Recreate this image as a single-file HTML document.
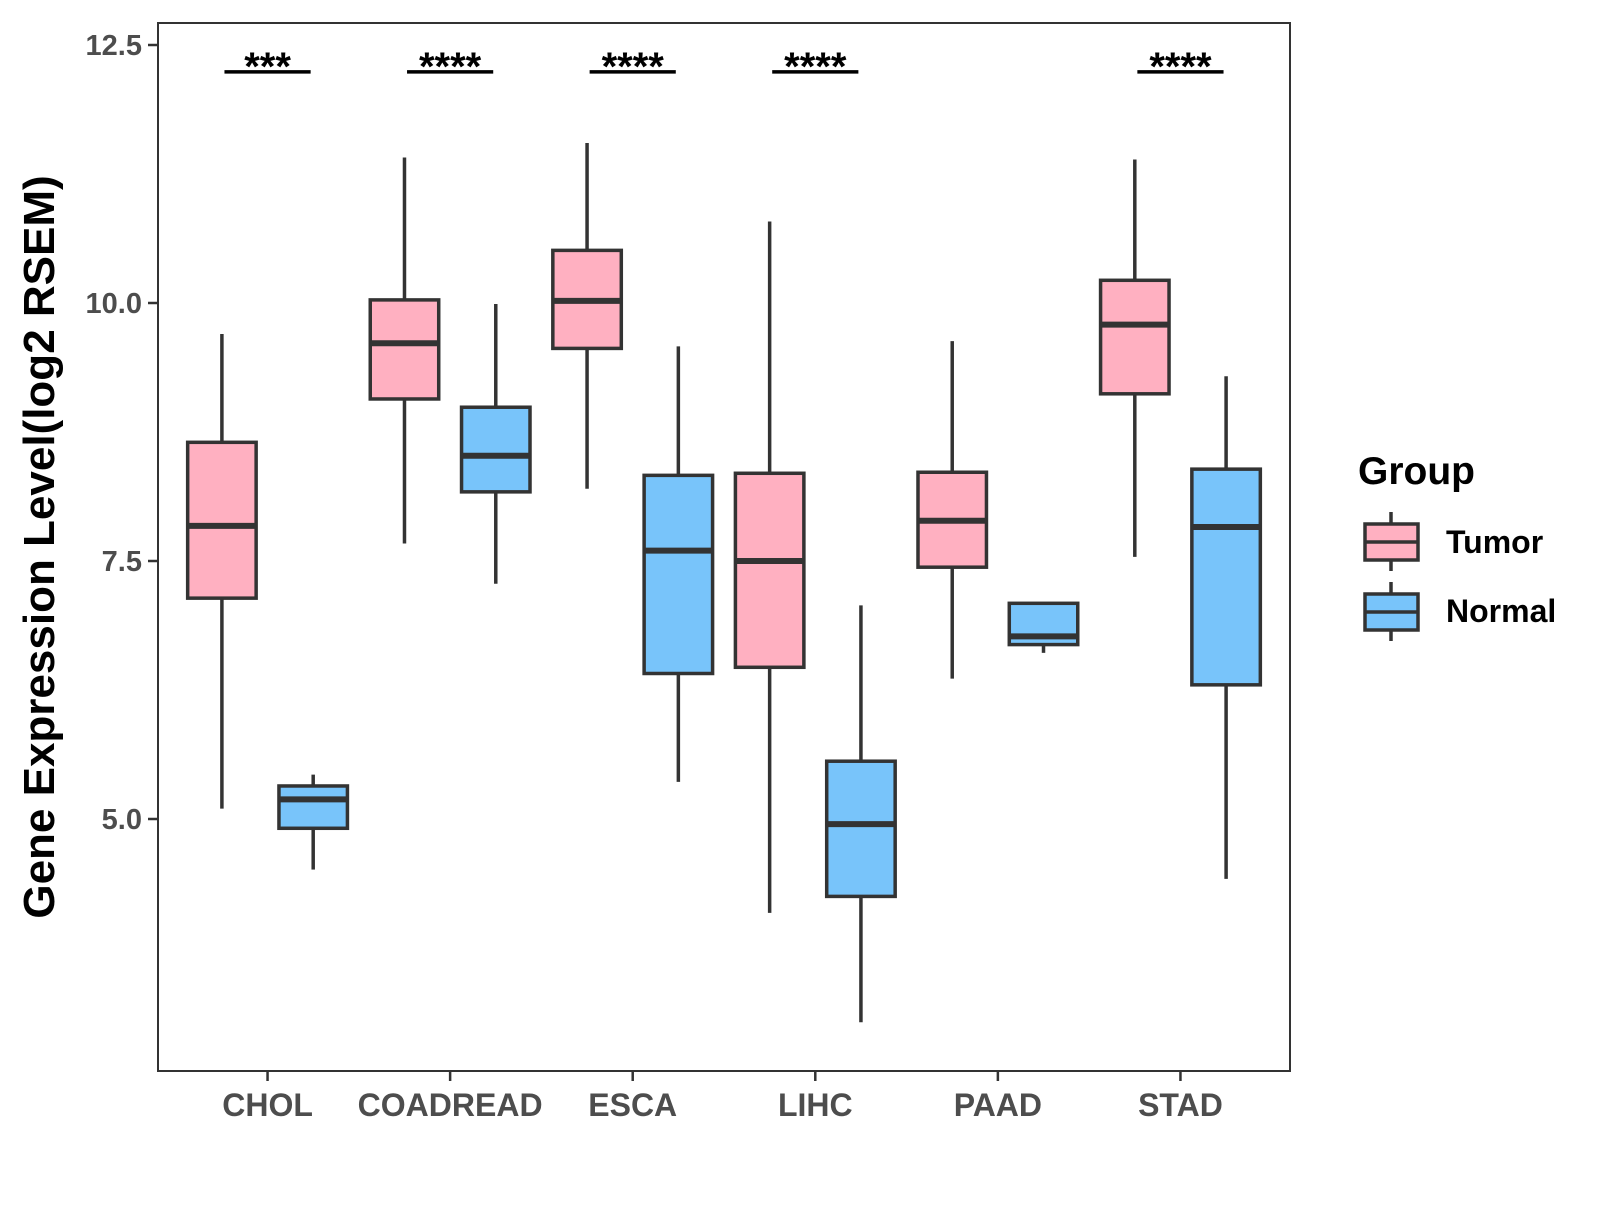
<!DOCTYPE html>
<html><head><meta charset="utf-8"><style>
body{margin:0;background:#fff}
svg text{font-family:"Liberation Sans",Arial,sans-serif;font-weight:bold}
</style></head><body>
<svg id="chart" width="1600" height="1200" xmlns="http://www.w3.org/2000/svg">
<rect width="1600" height="1200" fill="#fff"/>
<g id="plot"></g>
<rect x="158" y="23" width="1132" height="1048" fill="none" stroke="#333" stroke-width="2"/>
<text transform="translate(54,547) rotate(-90)" text-anchor="middle" font-size="44" fill="#000">Gene Expression Level(log2 RSEM)</text>
<g>
<text x="1358" y="484" font-size="39" fill="#000">Group</text>
<g>
<line x1="1391" y1="512" x2="1391" y2="571" stroke="#333" stroke-width="3.5"/>
<rect x="1365" y="524" width="53" height="36" fill="#FFB0C1" stroke="#333" stroke-width="3.5"/>
<line x1="1365" y1="542" x2="1418" y2="542" stroke="#333" stroke-width="3.5"/>
<text x="1446" y="553" font-size="32" fill="#000">Tumor</text></g>
<g>
<line x1="1391" y1="582" x2="1391" y2="641" stroke="#333" stroke-width="3.5"/>
<rect x="1365" y="594" width="53" height="36" fill="#78C4FA" stroke="#333" stroke-width="3.5"/>
<line x1="1365" y1="612" x2="1418" y2="612" stroke="#333" stroke-width="3.5"/>
<text x="1446" y="622" font-size="32" fill="#000">Normal</text></g>
</g>
</svg>
<script>
const categories=["CHOL","COADREAD","ESCA","LIHC","PAAD","STAD"];
// [lower whisker, Q1, median, Q3, upper whisker]
const tumorStats=[[5.10,7.14,7.84,8.65,9.70],[7.67,9.07,9.61,10.03,11.41],[8.20,9.56,10.02,10.51,11.55],[4.09,6.47,7.50,8.35,10.79],[6.36,7.44,7.89,8.36,9.63],[7.54,9.12,9.79,10.22,11.39]];
const normalStats=[[4.51,4.91,5.19,5.32,5.43],[7.28,8.17,8.52,8.99,9.99],[5.36,6.41,7.60,8.33,9.58],[3.03,4.25,4.95,5.56,7.07],[6.61,6.69,6.77,7.09,7.10],[4.42,6.30,7.83,8.39,9.29]];
const sigLabels=["***","****","****","****","","****"];
const yTicks=[5.0,7.5,10.0,12.5];
const sigY=12.24;

const NS="http://www.w3.org/2000/svg";
const g=document.getElementById('plot');
const px0=158,pw=1132,py0=23,ph=1048;
function yS(v){return 303-(v-10)*103.2;}
const step=pw/6.2;
function xS(i){return px0+(0.6+i)*step;}
function mk(t,a,p){const e=document.createElementNS(NS,t);for(const k in a)e.setAttribute(k,a[k]);(p||g).appendChild(e);return e;}
const bw=0.375*step;
const off=0.25*step;
function box(cx,s,fill,name){
  const gg=mk('g',{});
  
  
  mk('line',{x1:cx,x2:cx,y1:yS(s[4]),y2:yS(s[3]),stroke:'#333','stroke-width':3.5},gg);
  mk('line',{x1:cx,x2:cx,y1:yS(s[1]),y2:yS(s[0]),stroke:'#333','stroke-width':3.5},gg);
  mk('rect',{x:cx-bw/2,y:yS(s[3]),width:bw,height:yS(s[1])-yS(s[3]),fill:fill,stroke:'#333','stroke-width':3.5},gg);
  mk('line',{x1:cx-bw/2,x2:cx+bw/2,y1:yS(s[2]),y2:yS(s[2]),stroke:'#333','stroke-width':6},gg);
}
categories.forEach((c,i)=>{
  const cx=xS(i);
  box(cx-off,tumorStats[i],'#FFB0C1','box-tumor-'+c.toLowerCase());
  box(cx+off,normalStats[i],'#78C4FA','box-normal-'+c.toLowerCase());
  const t=mk('line',{x1:cx,x2:cx,y1:py0+ph,y2:py0+ph+10,stroke:'#333','stroke-width':2.5});
  
  
  const l=mk('text',{x:cx,y:1116,'text-anchor':'middle','font-size':32,fill:'#4d4d4d'});
  l.textContent=c;
  
  
  if(sigLabels[i]){
    const b=mk('line',{x1:cx-0.236*step,x2:cx+0.236*step,y1:yS(sigY),y2:yS(sigY),stroke:'#000','stroke-width':3.5});
    
    
    const s=mk('text',{x:cx,y:yS(sigY)+8,'text-anchor':'middle','font-size':40,fill:'#000'});
    s.textContent=sigLabels[i];
    
    
  }
});
yTicks.forEach(v=>{
  const t=mk('line',{x1:px0-10,x2:px0,y1:yS(v),y2:yS(v),stroke:'#333','stroke-width':2.5});
  
  
  const l=mk('text',{x:px0-16,y:yS(v)+10,'text-anchor':'end','font-size':29,fill:'#4d4d4d'});
  l.textContent=v.toFixed(1);
  
  
});
</script>
</body></html>
